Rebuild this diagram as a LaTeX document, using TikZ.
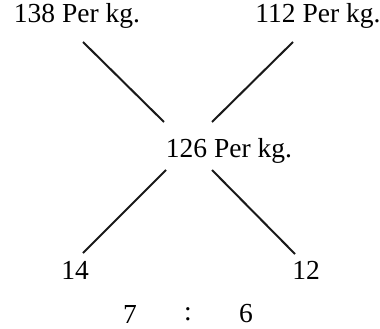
\documentclass[tikz,border=0pt]{standalone}
\usepackage{fontspec}
\setmainfont{Liberation Serif}
\begin{document}
\begin{tikzpicture}[x=1pt,y=-1pt,
  lbl/.style={inner sep=0pt,font=\fontsize{27.5}{32}\selectfont},
  conn/.style={line width=2pt,black!90}]
\useasboundingbox (0,0) rectangle (380,329);
\node[lbl] (a) at (77,16) {138 Per kg.};
\node[lbl] (b) at (318,16) {112 Per kg.};
\node[lbl] (c) at (229,151) {126 Per kg.};
\node[lbl] (d) at (75,270) {14};
\node[lbl] (e) at (306,270) {12};
\node[lbl] (f) at (130,314) {7};
\node[lbl] (g) at (188,314) {:};
\node[lbl] (h) at (246,314) {6};
\coordinate (a1) at (83,42); \coordinate (a2) at (164,122);
\coordinate (b1) at (293,42); \coordinate (b2) at (212,122);
\coordinate (d1) at (83,253); \coordinate (d2) at (166,170);
\coordinate (e1) at (295,254); \coordinate (e2) at (212,170);
\draw[conn] (a1) -- (a2);
\draw[conn] (b1) -- (b2);
\draw[conn] (d2) -- (d1);
\draw[conn] (e2) -- (e1);
\end{tikzpicture}
\end{document}
